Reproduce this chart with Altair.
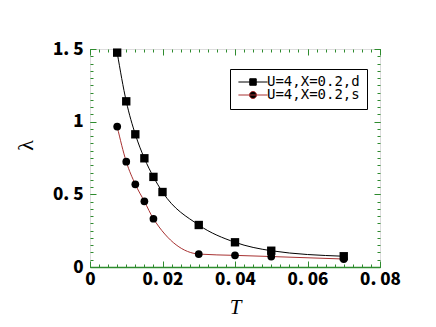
import altair as alt
import pandas as pd

# ---- data ----
names = ["U=4,X=0.2,d", "U=4,X=0.2,s"]
T_d = [0.0075, 0.01, 0.0125, 0.015, 0.0175, 0.02, 0.03, 0.04, 0.05, 0.07]
lam_d = [1.475, 1.14, 0.913, 0.748, 0.62, 0.516, 0.289, 0.17, 0.112, 0.074]
T_s = [0.0075, 0.01, 0.0125, 0.015, 0.0175, 0.03, 0.04, 0.05, 0.07]
lam_s = [0.966, 0.725, 0.569, 0.452, 0.332, 0.089, 0.08, 0.072, 0.055]

x_major = [0, 0.02, 0.04, 0.06, 0.08]
y_major = [0, 0.5, 1, 1.5]
x_minor = [round(i * 0.0025, 4) for i in range(33)]
y_minor = [round(i * 0.05, 2) for i in range(31)]

W, H = 290, 218
GREEN = "#2e8b2e"
RED = "#a83232"
LABEL_FONT = "Noto Sans CJK JP"

df = pd.DataFrame({
    "T": T_d + T_s,
    "lam": lam_d + lam_s,
    "series": [names[0]] * len(T_d) + [names[1]] * len(T_s),
})

xs = alt.Scale(domain=[0, 0.08], nice=False, zero=False)
ys = alt.Scale(domain=[0, 1.5], nice=False, zero=False)


def hid(orient, values, size, offset):
    return alt.Axis(orient=orient, values=values, tickSize=size, offset=offset,
                    labels=False, domain=False, grid=False, title=None,
                    tickColor=GREEN, tickWidth=1)


x_main = alt.Axis(
    orient="bottom", values=x_major, ticks=False, domain=True, domainColor=GREEN,
    domainWidth=1.5, grid=False,
    labelExpr="datum.value == 0 ? '0' : replace(format(datum.value, '.2f'), '.', '. ')",
    labelFont=LABEL_FONT, labelFontSize=17, labelFontWeight=900, labelColor="black",
    labelPadding=4, labelFlush=False, labelOverlap=False,
    title="T", titleFont="Liberation Serif", titleFontStyle="italic",
    titleFontWeight="normal", titleFontSize=21, titleColor="black",
    titleY=40, titleBaseline="middle",
)
y_main = alt.Axis(
    orient="left", values=y_major, ticks=False, domain=False, grid=False,
    labelExpr="datum.value == 0 ? '0' : replace(format(datum.value, '.1~f'), '.', '. ')",
    labelFont=LABEL_FONT, labelFontSize=17, labelFontWeight=900, labelColor="black",
    labelPadding=7, labelFlush=False, labelOverlap=False,
    title="λ", titleFont="Liberation Serif", titleFontWeight="normal",
    titleFontSize=22, titleColor="black", titleAngle=-90,
    titleX=-65, titleY=96, titleAlign="center", titleBaseline="middle",
)

base = alt.Chart(df)

line_d = base.transform_filter(alt.datum.series == names[0]).mark_line(
    interpolate="monotone", color="black", strokeWidth=1
).encode(
    x=alt.X("T:Q", scale=xs, axis=x_main),
    y=alt.Y("lam:Q", scale=ys, axis=y_main),
)

line_s = base.transform_filter(alt.datum.series == names[1]).mark_line(
    interpolate="monotone", color=RED, strokeWidth=1
).encode(
    x=alt.X("T:Q", scale=xs, axis=hid("top", x_major, 6, -H)),
    y=alt.Y("lam:Q", scale=ys, axis=hid("right", y_major, 6, -W)),
)

pts_d = base.transform_filter(alt.datum.series == names[0]).mark_point(
    shape="square", filled=True, color="black", size=70, opacity=1
).encode(
    x=alt.X("T:Q", scale=xs, axis=hid("bottom", x_major, 6, -H)),
    y=alt.Y("lam:Q", scale=ys, axis=hid("left", y_major, 6, -W)),
)

pts_s = base.transform_filter(alt.datum.series == names[1]).mark_point(
    shape="circle", filled=True, color="black", size=60, opacity=1
).encode(
    x=alt.X("T:Q", scale=xs, axis=hid("top", x_minor, 3, -H)),
    y=alt.Y("lam:Q", scale=ys, axis=hid("right", y_minor, 3, -W)),
)

path_sq = "M-4.5,0H4.5M-1,-1H1V1H-1Z"
path_ci = "M-4.5,0H4.5M-1.1,0A1.1,1.1,0,1,1,1.1,0A1.1,1.1,0,1,1,-1.1,0Z"

leg = alt.Legend(
    orient="none", legendX=140, legendY=20, title=None,
    strokeColor="black", fillColor="white", padding=7,
    labelFont="DejaVu Sans Mono", labelFontSize=14, labelColor="black",
    symbolOffset=9, labelOffset=7, rowPadding=-4, clipHeight=12,
    symbolStrokeWidth=1, symbolSize=42,
)

legend_layer = base.transform_filter("false").mark_point(
    filled=True, fill="black", size=42, strokeWidth=1, opacity=1
).encode(
    x=alt.X("T:Q", scale=xs, axis=hid("bottom", x_minor, 3, -H)),
    y=alt.Y("lam:Q", scale=ys, axis=hid("left", y_minor, 3, -W)),
    shape=alt.Shape("series:N", scale=alt.Scale(domain=names, range=[path_sq, path_ci]), legend=leg),
    stroke=alt.Stroke("series:N", scale=alt.Scale(domain=names, range=["black", RED]), legend=leg),
)

shadow = alt.Chart(pd.DataFrame({"k": [0]})).mark_rect(color="black").encode(
    x=alt.value(143), x2=alt.value(278), y=alt.value(23), y2=alt.value(59)
)

chart = alt.layer(
    shadow, line_d, line_s, pts_d, pts_s, legend_layer
).resolve_axis(
    x="independent", y="independent"
).properties(
    width=W, height=H,
    autosize=alt.AutoSizeParams(type="none"),
    padding={"left": 82, "top": 41, "right": 48, "bottom": 52},
).configure_view(
    stroke=GREEN, strokeWidth=1
).configure_legend(
    rowPadding=-4, clipHeight=12
).configure(background="white")

chart.save("out.html", embed_options={"renderer": "svg", "actions": False})
